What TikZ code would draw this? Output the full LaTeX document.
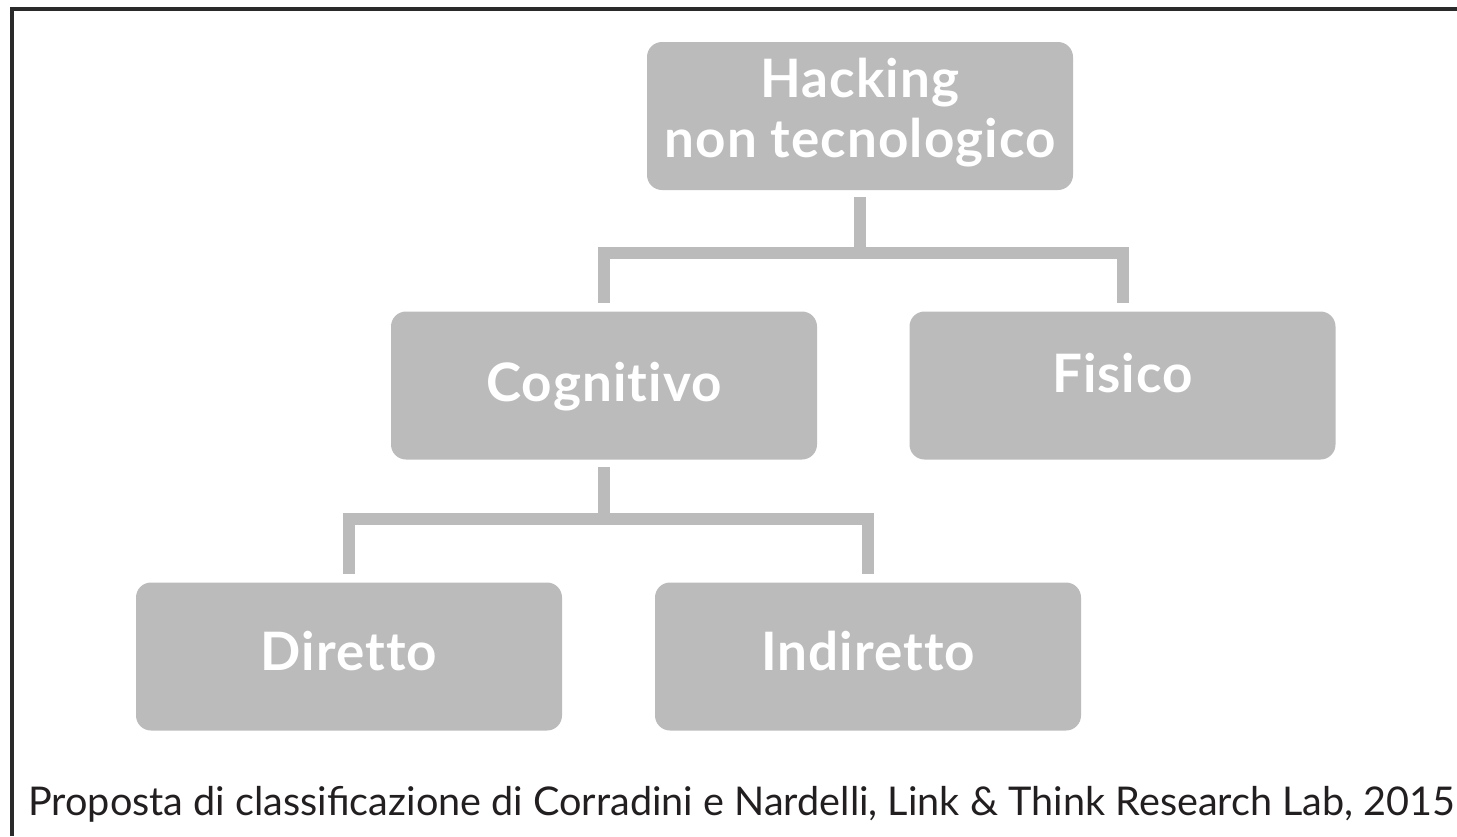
\documentclass[tikz,border=0pt]{standalone}
\usepackage{fontspec}
\setmainfont{Lato}
\newfontfamily\boxfont[Ligatures=NoCommon, LetterSpace=2]{Lato}
\definecolor{boxgray}{HTML}{BBBBBB}
\definecolor{captxt}{HTML}{231F20}
\definecolor{framec}{HTML}{2A2A2A}
\tikzset{
  box/.style={fill=boxgray, rounded corners=7.5pt, minimum width=213pt, minimum height=74pt,
    inner sep=0pt, text=white, font=\boxfont\fontsize{26.5}{30}\selectfont\bfseries, align=center,
    text height=18pt},
  conn/.style={draw=boxgray, line width=6pt, line join=miter},
}
\begin{document}
\begin{tikzpicture}[x=0.5pt,y=-0.5pt]
\useasboundingbox (0,0) rectangle (1457,836);
\draw[framec, line width=2pt] (12,836) -- (12,8.5) -- (1457,8.5);
\node[box, text height=48pt, text depth=7pt] (top) at (860,116) {Hacking\\non tecnologico};
\node[box, text depth=2.5pt] (cog) at (604,385.5) {Cognitivo};
\node[box, text depth=11.5pt] (fis) at (1122.5,385.5) {Fisico};
\node[box, text depth=4.5pt] (dir) at (349,656.5) {Diretto};
\node[box, text depth=4.5pt] (ind) at (868,656.5) {Indiretto};
\draw[conn] ([yshift=-3.5pt]top.south) |- ([yshift=29pt]cog.north) -- ([yshift=4pt]cog.north);
\draw[conn] ([yshift=-3.5pt]top.south) |- ([yshift=29pt]fis.north) -- ([yshift=4pt]fis.north);
\draw[conn] ([yshift=-3.5pt]cog.south) |- ([yshift=31.5pt]dir.north) -- ([yshift=4pt]dir.north);
\draw[conn] ([yshift=-3.5pt]cog.south) |- ([yshift=31.5pt]ind.north) -- ([yshift=4pt]ind.north);
\node[anchor=base west, inner sep=0pt, text=captxt, font=\fontsize{19.8}{24}\selectfont] (cap) at (28,815)
  {Proposta di classificazione di Corradini e Nardelli, Link \& Think Research Lab, 2015};
\end{tikzpicture}
\end{document}
